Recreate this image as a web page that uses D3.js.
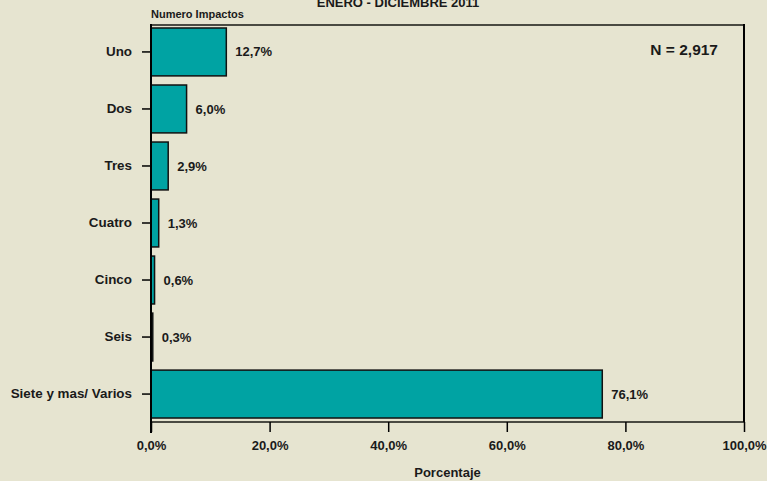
<!DOCTYPE html>
<html>
<head>
<meta charset="utf-8">
<script src="https://cdn.jsdelivr.net/npm/d3@7"></script>
<style>
  body { margin: 0; background: #e6e4d0; }
  svg { display: block; font-family: "Liberation Sans", Arial, sans-serif; font-weight: bold; }
  .tick text { fill: #1a1a1a; font-size: 13px; font-weight: bold; font-family: "Liberation Sans", Arial, sans-serif; }
  .ylab .tick text { font-size: 13.4px; }
</style>
</head>
<body>
<svg width="767" height="481"></svg>
<script>
let categories = ["Uno", "Dos", "Tres", "Cuatro", "Cinco", "Seis", "Siete y mas/ Varios"]
let percentages = [12.7, 6.0, 2.9, 1.3, 0.6, 0.3, 76.1]
let xTicks = [0, 20, 40, 60, 80, 100]

let svg = d3.select("svg"),
    plotLeft = 151, plotRight = 744, plotTop = 24, plotBottom = 422;

svg.append("rect").attr("width", 767).attr("height", 481).attr("fill", "#e6e4d0");

let xScale = d3.scaleLinear().domain([0, 100]).range([plotLeft, plotRight]),
    yScale = d3.scaleBand().domain(categories).range([plotTop, plotBottom])
        .paddingInner(0.16).paddingOuter(0.07);

let fmt = function (v) { return v.toFixed(1).replace(".", ",") + "%"; };

// frame
svg.append("line").attr("x1", plotLeft).attr("x2", plotRight).attr("y1", plotTop + 1).attr("y2", plotTop + 1)
    .attr("stroke", "#4a4a42").attr("stroke-width", 2);
svg.append("line").attr("x1", plotLeft).attr("x2", plotRight).attr("y1", plotBottom).attr("y2", plotBottom)
    .attr("stroke", "#4a4a42").attr("stroke-width", 2);
svg.append("line").attr("x1", plotRight).attr("x2", plotRight).attr("y1", plotTop).attr("y2", plotBottom)
    .attr("stroke", "#000").attr("stroke-width", 2);

// bars
svg.selectAll(".bar")
    .data(percentages)
    .enter().append("rect")
    .attr("class", "bar")
    .attr("x", xScale(0))
    .attr("y", function (d, i) { return yScale(categories[i]); })
    .attr("width", function (d) { return xScale(d) - xScale(0); })
    .attr("height", yScale.bandwidth())
    .attr("fill", "#00a3a3")
    .attr("stroke", "#111")
    .attr("stroke-width", 1.5);

svg.selectAll(".val")
    .data(percentages)
    .enter().append("text")
    .attr("class", "val")
    .attr("x", function (d) { return xScale(d) + 9; })
    .attr("y", function (d, i) { return yScale(categories[i]) + yScale.bandwidth() / 2; })
    .attr("dy", "0.35em")
    .attr("font-size", 13)
    .attr("fill", "#1a1a1a")
    .text(fmt);

// axes
let xAxis = svg.append("g")
    .attr("transform", "translate(0," + plotBottom + ")")
    .call(d3.axisBottom(xScale).tickValues(xTicks).tickSize(10).tickPadding(9).tickFormat(fmt));
xAxis.select(".domain").remove();
xAxis.selectAll(".tick line").attr("stroke", "#000").attr("stroke-width", 1.5);

let yAxis = svg.append("g")
    .attr("class", "ylab")
    .attr("transform", "translate(" + plotLeft + ",0)")
    .call(d3.axisLeft(yScale).tickSize(9).tickPadding(10));
yAxis.select(".domain").remove();
yAxis.selectAll(".tick line").attr("stroke", "#000").attr("stroke-width", 1.5);

svg.append("line").attr("x1", plotLeft).attr("x2", plotLeft).attr("y1", plotTop).attr("y2", plotBottom + 11)
    .attr("stroke", "#000").attr("stroke-width", 2);

// texts (title is cut at the top edge in the original too)
svg.append("text").attr("x", 398).attr("y", 7).attr("text-anchor", "middle")
    .attr("font-size", 13).attr("fill", "#1a1a1a").text("ENERO - DICIEMBRE 2011");
svg.append("text").attr("x", plotLeft).attr("y", 17.5)
    .attr("font-size", 11).attr("fill", "#1a1a1a").text("Numero Impactos");
svg.append("text").attr("x", 718).attr("y", 55).attr("text-anchor", "end")
    .attr("font-size", 15.5).attr("fill", "#1a1a1a").text("N = 2,917");
svg.append("text").attr("x", (plotLeft + plotRight) / 2).attr("y", 477).attr("text-anchor", "middle")
    .attr("font-size", 13).attr("fill", "#1a1a1a").text("Porcentaje");
</script>
</body>
</html>
